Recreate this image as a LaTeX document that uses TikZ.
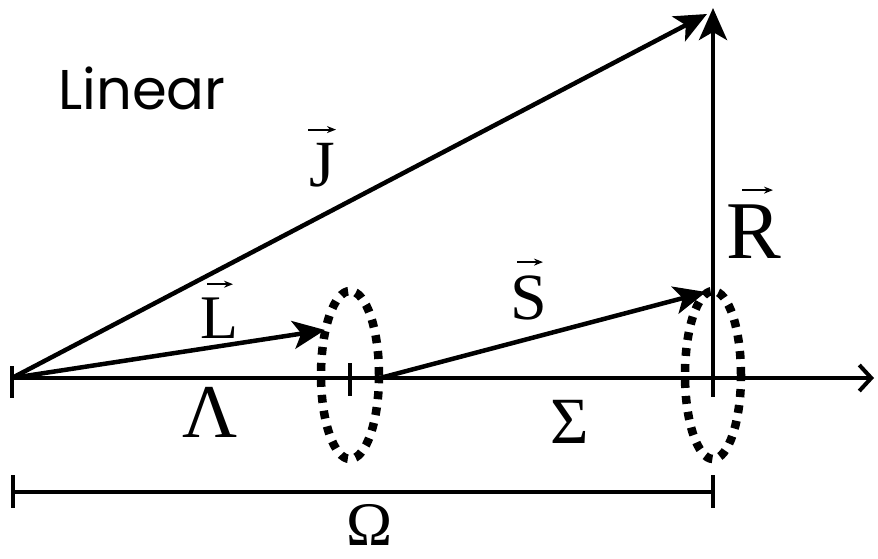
\documentclass[tikz,border=0pt]{standalone}
\usepackage{fontspec}
\setmainfont{Liberation Serif}
\newfontfamily\linfont{Poppins}
\usetikzlibrary{arrows.meta}
\begin{document}
\begin{tikzpicture}[x=1pt,y=-1pt,
  vec/.style={line width=4.5pt,-{Stealth[length=32pt,width=28pt,inset=8pt]}},
  axisline/.style={line width=4pt,-{Straight Barb[length=12pt,width=26pt,line width=4pt]}},
  plain/.style={line width=4pt},
  thin/.style={line width=3.5pt},
  ring/.style={line width=8.5pt,dash pattern=on 8pt off 8pt},
  lbl/.style={inner sep=0pt,anchor=base,font=\fontsize{62}{62}\selectfont},
  overarrow/.style={line width=2pt,-{Stealth[length=9pt,width=7pt]}}]
\useasboundingbox (0,0) rectangle (878,559);
% key points
\coordinate (O) at (12,378);
\coordinate (Lend) at (325,330);
\coordinate (Sstart) at (380,378);
\coordinate (Stip) at (706,292);
\coordinate (Rbase) at (713,292);
\coordinate (Rtop) at (713,8);
\coordinate (Jtip) at (707,14);
\coordinate (Xend) at (874,378);
\coordinate (C1) at (350,375);
\coordinate (C2) at (713,375);
% dotted rings
\draw[ring] (C1) ellipse [x radius=29pt, y radius=84pt];
\draw[ring] (C2) ellipse [x radius=28pt, y radius=84pt];
% axis
\draw[axisline] (O) -- (Xend);
\draw[plain] ([yshift=12pt]O) -- ([yshift=-20pt]O);
\draw[thin] ([yshift=12pt]C1) -- ([yshift=-21pt]C1);
\draw[plain] (Rbase) -- (713,397);
% vectors
\draw[vec] (O) -- (Jtip);
\draw[vec] (O) -- (Lend);
\draw[vec] (Sstart) -- (Stip);
\draw[vec] (Rbase) -- (Rtop);
% Omega bracket
\coordinate (B1) at (13,492);
\coordinate (B2) at (713,492);
\draw[thin] (B1) -- (B2);
\draw[thin] ([yshift=17pt]B1) -- ([yshift=-16pt]B1);
\draw[thin] ([yshift=17pt]B2) -- ([yshift=-16pt]B2);
% labels
\node[inner sep=0pt,anchor=base west,font=\linfont\fontsize{56}{56}\selectfont] (lin) at (58,110) {Linear};
\node[lbl,font=\fontsize{66}{66}\selectfont] (J) at (322,186) {J};
\node[lbl] (L) at (219,338) {L};
\node[lbl,font=\fontsize{66}{66}\selectfont] (S) at (529,319) {S};
\node[lbl,font=\fontsize{82}{82}\selectfont] (R) at (754,258) {R};
\node[lbl,font=\fontsize{76}{76}\selectfont] (Lam) at (210,437) {Λ};
\node[lbl,font=\fontsize{66}{66}\selectfont] (Sig) at (570,443) {Σ};
\node[lbl] (Om) at (370,545) {Ω};
% arrows over letters
\draw[overarrow] ([xshift=-14pt,yshift=13pt]J.north) -- ([xshift=14pt,yshift=13pt]J.north);
\draw[overarrow] ([xshift=-12pt,yshift=13pt]L.north) -- ([xshift=14pt,yshift=13pt]L.north);
\draw[overarrow] ([xshift=-12pt,yshift=13pt]S.north) -- ([xshift=14pt,yshift=13pt]S.north);
\draw[overarrow] ([xshift=-12pt,yshift=14pt]R.north) -- ([xshift=19pt,yshift=14pt]R.north);
\end{tikzpicture}
\end{document}
